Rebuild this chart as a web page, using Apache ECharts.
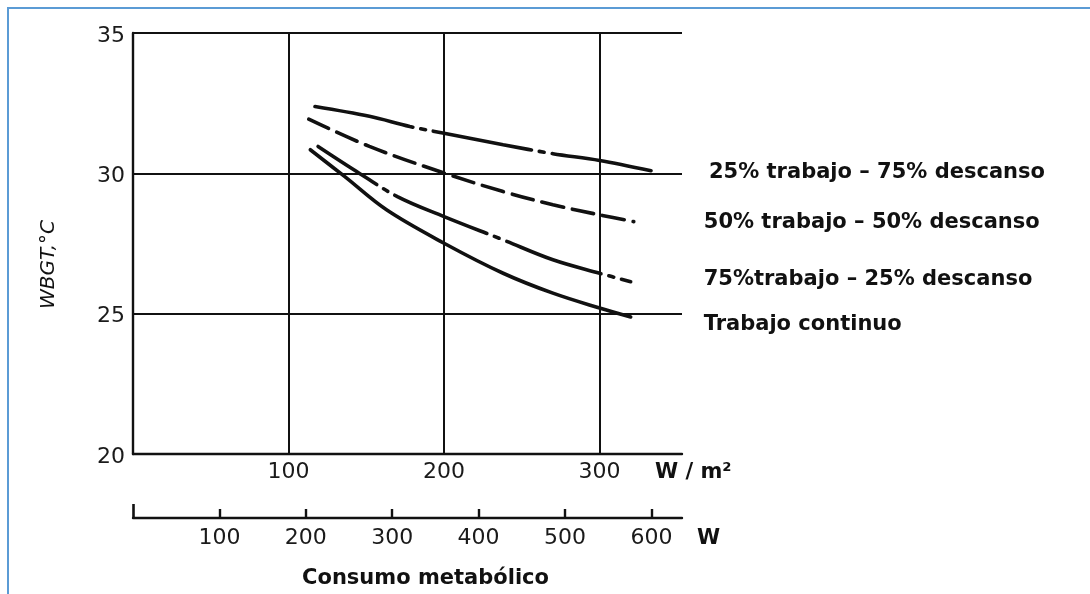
<!DOCTYPE html>
<html>
<head>
<meta charset="utf-8">
<script src="https://cdn.jsdelivr.net/npm/echarts@6/dist/echarts.min.js"></script>
<style>
  html, body { margin: 0; padding: 0; background: #ffffff; }
  #frame { position: absolute; left: 7px; top: 7px; width: 1100px; height: 600px;
           border-left: 2px solid #5b9bd5; border-top: 2px solid #5b9bd5; }
  #chart { position: absolute; left: 0; top: 0; width: 1090px; height: 594px; }
</style>
</head>
<body>
<div id="frame"></div>
<div id="chart"></div>
<script>
// ---- data (W/m², WBGT °C) ----
const seriesNames = [
  '25% trabajo – 75% descanso',
  '50% trabajo – 50% descanso',
  '75%trabajo – 25% descanso',
  'Trabajo continuo'
];
const curve25 = [[117, 32.38], [152, 32.03], [178, 31.67], [200, 31.43], [238, 31.02], [270, 30.70], [300, 30.46], [335, 30.07]];
const curve50 = [[113, 31.93], [152, 30.96], [200, 30.01], [238, 29.35], [270, 28.88], [300, 28.52], [322, 28.28]];
const curve75 = [[119, 30.96], [142, 30.13], [170, 29.17], [200, 28.46], [238, 27.63], [270, 26.92], [300, 26.44], [320, 26.14]];
const curveCont = [[114, 30.84], [136, 29.89], [163, 28.70], [200, 27.51], [238, 26.44], [270, 25.73], [300, 25.20], [320, 24.88]];

const yTicks = [20, 25, 30, 35];
const wm2Ticks = [100, 200, 300];
const wTicks = [100, 200, 300, 400, 500, 600];
const wm2Max = 353;
const bodyArea = 1.8;          // W = W/m² × 1.8 m²

const yTitle = 'WBGT,°C';
const xTitle = 'W / m²';
const wTitle = 'W';
const bottomTitle = 'Consumo metabólico';

// ---- chart ----
const ink = '#111111';
const font = 'DejaVu Sans';
const chart = echarts.init(document.getElementById('chart'), null, { renderer: 'canvas' });

function lineSeries(name, data, dash, dashOffset, labelDist, labelOffset) {
  return {
    type: 'line', name: name, data: data, xAxisIndex: 0, yAxisIndex: 0,
    smooth: 0.35, showSymbol: false, symbol: 'none',
    lineStyle: { color: ink, width: 3.6, type: dash, dashOffset: dashOffset, cap: 'round' },
    endLabel: {
      show: true, formatter: name, position: 'right', distance: labelDist, offset: labelOffset,
      color: ink, fontFamily: font, fontWeight: 'bold', fontSize: 21
    },
    emphasis: { disabled: true },
    animation: false
  };
}

chart.setOption({
  animation: false,
  grid: [
    { left: 133, top: 33, width: 549, height: 421, containLabel: false },
    { left: 133, top: 500, width: 549, height: 18, containLabel: false }
  ],
  xAxis: [
    {
      type: 'value', gridIndex: 0, position: 'bottom', min: 0, max: wm2Max, interval: 100,
      axisLine: { show: true, lineStyle: { color: ink, width: 2.4 } },
      axisTick: { show: false },
      splitLine: { show: true, showMaxLine: false, lineStyle: { color: ink, width: 2 } },
      axisLabel: { customValues: wm2Ticks, margin: 7, color: '#1a1a1a', fontFamily: font, fontSize: 22 },
      name: xTitle, nameLocation: 'end', nameGap: -27,
      nameTextStyle: { color: ink, fontFamily: font, fontWeight: 'bold', fontSize: 21, align: 'left', verticalAlign: 'top', padding: [8, 0, 0, 0] }
    },
    {
      type: 'value', gridIndex: 1, position: 'bottom', min: 0, max: wm2Max * bodyArea, interval: 100,
      axisLine: { show: true, lineStyle: { color: ink, width: 2.4 } },
      axisTick: { show: true, inside: true, length: 9, customValues: wTicks, lineStyle: { color: ink, width: 2.4 } },
      splitLine: { show: false },
      axisLabel: { customValues: wTicks, margin: 9, color: '#1a1a1a', fontFamily: font, fontSize: 22 },
      name: wTitle, nameLocation: 'end', nameGap: 15,
      nameTextStyle: { color: ink, fontFamily: font, fontWeight: 'bold', fontSize: 21, align: 'left', verticalAlign: 'top', padding: [10, 0, 0, 0] }
    },
    {
      type: 'value', gridIndex: 1, position: 'bottom', offset: 0, min: 0, max: wm2Max * bodyArea, interval: 100,
      axisLine: { show: false },
      axisTick: { show: true, inside: true, length: 14, customValues: [0], lineStyle: { color: ink, width: 2.6 } },
      splitLine: { show: false },
      axisLabel: { show: false },
      name: bottomTitle, nameLocation: 'middle', nameGap: 50,
      nameTextStyle: { color: ink, fontFamily: font, fontWeight: 'bold', fontSize: 21, padding: [0, 0, 0, 36] }
    }
  ],
  yAxis: [
    {
      type: 'value', gridIndex: 0, min: 20, max: 35, interval: 5,
      axisLine: { show: true, lineStyle: { color: ink, width: 2.4 } },
      axisTick: { show: false },
      splitLine: { show: true, lineStyle: { color: ink, width: 2 } },
      axisLabel: { customValues: yTicks, margin: 8, color: '#1a1a1a', fontFamily: font, fontSize: 22, verticalAlign: 'top', padding: [-8, 0, 0, 0] },
      name: yTitle, nameLocation: 'middle', nameGap: 74,
      nameTextStyle: { color: ink, fontFamily: font, fontStyle: 'italic', fontSize: 20, padding: [0, 42, 0, 0] }
    },
    { type: 'value', gridIndex: 1, min: 0, max: 1, show: false }
  ],
  series: [
    lineSeries(seriesNames[0], curve25, [100, 8, 5, 8], 0, 55, [0, 1]),
    lineSeries(seriesNames[1], curve50, [22, 9], 0, 70, [0, 1]),
    lineSeries(seriesNames[2], curve75, [100, 8, 5, 8], 30, 73, [0, -2]),
    lineSeries(seriesNames[3], curveCont, 'solid', 0, 73, [0, 8])
  ]
});
</script>
</body>
</html>
